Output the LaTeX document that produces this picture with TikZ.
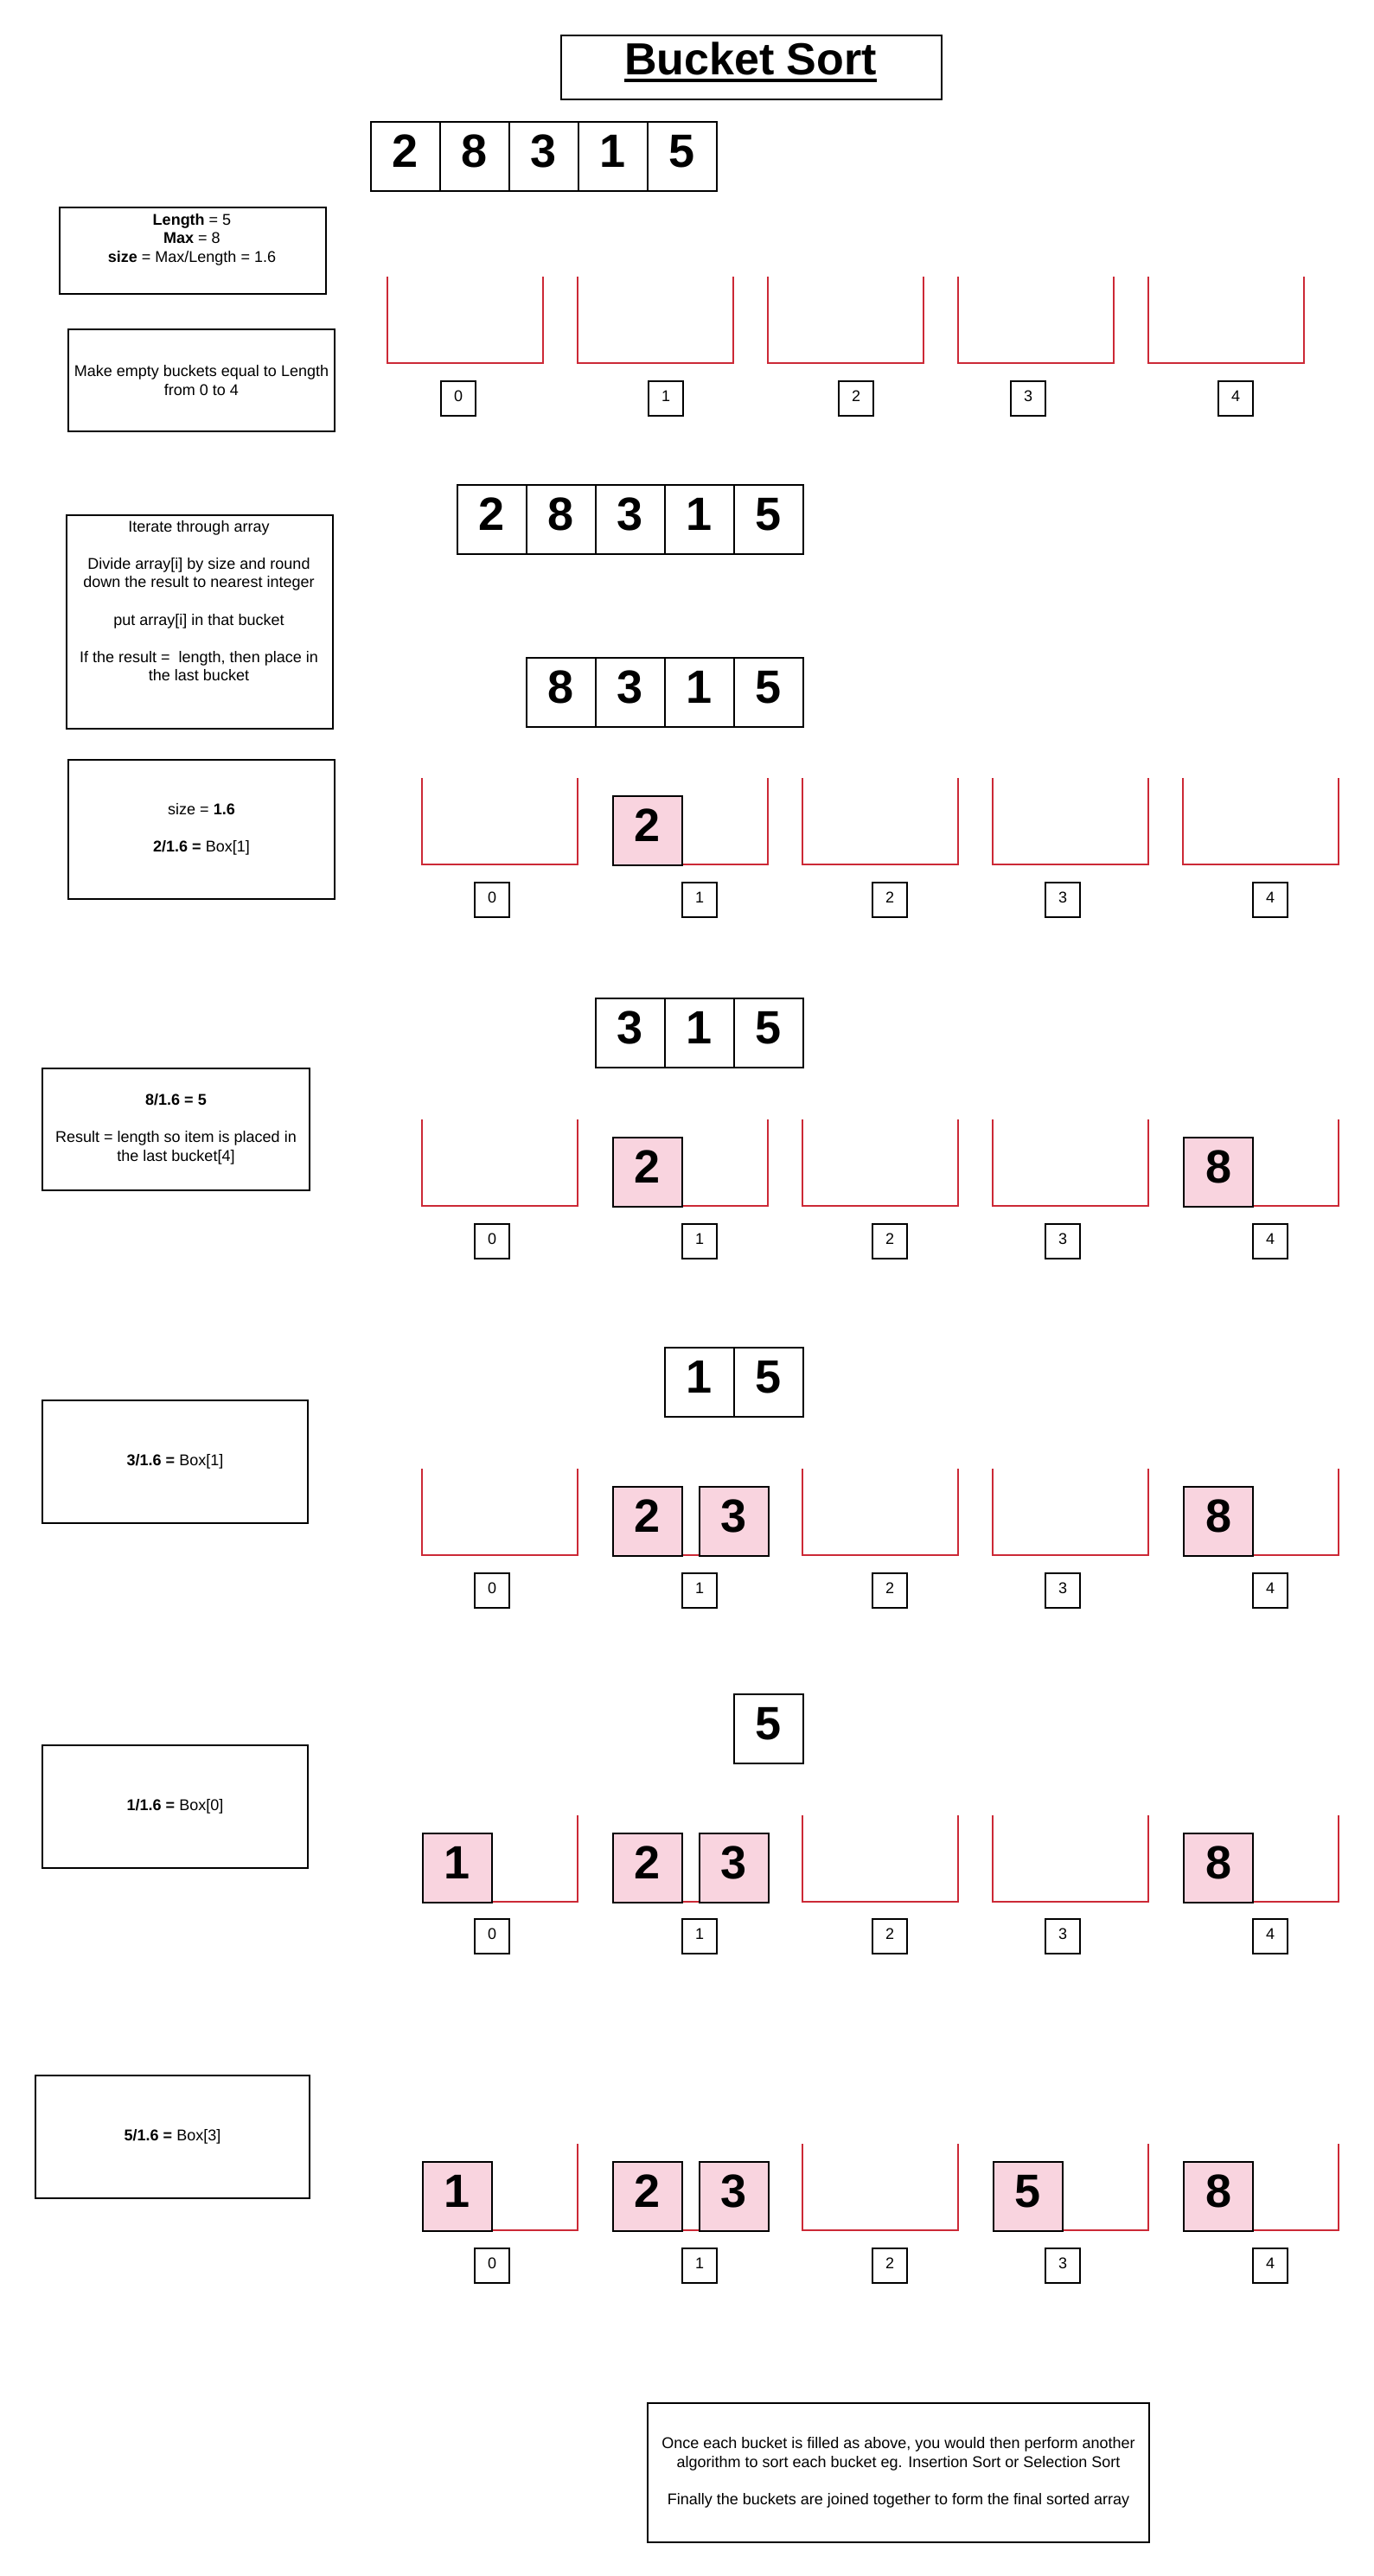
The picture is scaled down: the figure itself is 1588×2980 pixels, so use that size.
\documentclass[tikz,border=0pt]{standalone}
\usepackage{fontspec}
\setmainfont{Liberation Sans}
\definecolor{bred}{RGB}{204,41,54}
\definecolor{bpink}{RGB}{249,212,223}
\newcommand\fullbkt[2]{\draw[bkt] (#1,#2) -- (#1,#2+100) -- (#1+180,#2+100) -- (#1+180,#2);}
\newcommand\rightbkt[2]{\draw[bkt] (#1+40,#2+100) -- (#1+180,#2+100) -- (#1+180,#2);}
\newcommand\twobkt[2]{\draw[bkt] (#1+40,#2+100) -- (#1+140,#2+100);}
\newcommand\arow[4]{\foreach \v [count=\i from 0] in {#4} {\node[cell] (#1-\i) at (#2+80*\i,#3) {\v};}}
\newcommand\idxrow[3]{\foreach \xx [count=\i from 0] in {#3} {\node[idx] (#1-\i) at (\xx,#2) {\i};}}
\begin{document}
\begin{tikzpicture}[x=1pt,y=-1pt,
  cell/.style={draw, line width=2pt, minimum width=80pt, minimum height=80pt, inner sep=0pt,
    font=\fontsize{54}{60}\selectfont\bfseries, text height=40pt, text depth=15pt, anchor=north west},
  item/.style={cell, fill=bpink},
  idx/.style={draw, line width=2pt, minimum width=40pt, minimum height=40pt, inner sep=0pt,
    font=\fontsize{18}{21.6}\selectfont, text height=12pt, text depth=5pt, anchor=north west},
  box/.style={draw, line width=2pt, inner sep=0pt, font=\fontsize{18}{21.6}\selectfont,
    align=center, anchor=north west},
  txt/.style={inner sep=0pt, font=\fontsize{18}{21.6}\selectfont, align=center},
  bkt/.style={draw=bred, line width=2pt},
]
\fill[white] (0,0) rectangle (1588,2980);
\useasboundingbox (0,0) rectangle (1588,2980);

% title
\node[draw, line width=2pt, minimum width=440pt, minimum height=74pt, anchor=north west] (titlebox) at (648,40) {};
\node[font=\fontsize{52}{60}\selectfont\bfseries, inner sep=0pt, anchor=base] (title) at (868,86) {Bucket Sort};
\draw[line width=4pt] ([yshift=-7pt]title.base west) -- ([yshift=-7pt]title.base east);

% left notes
\node[box, minimum width=308pt, minimum height=100pt] (info) at (68,239) {};
\node[txt] (infotxt) at (222,277) {\textbf{Length} = 5\\\textbf{Max} = 8\\\textbf{size} = Max/Length = 1.6};
\node[box, minimum width=308pt, minimum height=118pt] (mk) at (78,380) {Make empty buckets equal to Length\\from 0 to 4};
\node[box, minimum width=308pt, minimum height=247pt] (iter) at (76,595) {};
\node[txt] (itertxt) at (230,695) {Iterate through array\\[21.6pt]Divide array[i] by size and round\\down the result to nearest integer\\[21.6pt]put array[i] in that bucket\\[21.6pt]If the result =~ length, then place in\\the last bucket};
\node[box, minimum width=308pt, minimum height=161pt] (sz) at (78,878) {size = \textbf{1.6}\\[21.6pt]\textbf{2/1.6 =} Box[1]};
\node[box, minimum width=309pt, minimum height=141pt] (eight) at (48,1235) {\textbf{8/1.6 = 5}\\[21.6pt]Result = length so item is placed in\\the last bucket[4]};
\node[box, minimum width=307pt, minimum height=142pt] (three) at (48,1619) {\textbf{3/1.6 =} Box[1]};
\node[box, minimum width=307pt, minimum height=142pt] (one) at (48,2018) {\textbf{1/1.6 =} Box[0]};
\node[box, minimum width=317pt, minimum height=142pt] (five) at (40,2400) {\textbf{5/1.6 =} Box[3]};
\node[box, minimum width=580pt, minimum height=161pt] (final) at (748,2779) {Once each bucket is filled as above, you would then perform another\\algorithm to sort each bucket eg. Insertion Sort or Selection Sort\\[21.6pt]Finally the buckets are joined together to form the final sorted array};

% arrays
\arow{a}{428}{140}{2,8,3,1,5}
\arow{b}{528}{560}{2,8,3,1,5}
\arow{c}{608}{760}{8,3,1,5}
\arow{d}{688}{1154}{3,1,5}
\arow{e}{768}{1558}{1,5}
\arow{f}{848}{1959}{5}

% row A: empty buckets
\fullbkt{448}{320}\fullbkt{668}{320}\fullbkt{888}{320}\fullbkt{1108}{320}\fullbkt{1328}{320}
\idxrow{iA}{440}{509,749,969,1168,1408}

% row B
\fullbkt{488}{900}\rightbkt{708}{900}\fullbkt{928}{900}\fullbkt{1148}{900}\fullbkt{1368}{900}
\node[item] (B2) at (708,920) {2};
\idxrow{iB}{1020}{548,788,1008,1208,1448}

% row C
\fullbkt{488}{1295}\rightbkt{708}{1295}\fullbkt{928}{1295}\fullbkt{1148}{1295}\rightbkt{1368}{1295}
\node[item] (C2) at (708,1315) {2};
\node[item] (C8) at (1368,1315) {8};
\idxrow{iC}{1415}{548,788,1008,1208,1448}

% row D
\fullbkt{488}{1699}\twobkt{708}{1699}\fullbkt{928}{1699}\fullbkt{1148}{1699}\rightbkt{1368}{1699}
\node[item] (D2) at (708,1719) {2};
\node[item] (D3) at (808,1719) {3};
\node[item] (D8) at (1368,1719) {8};
\idxrow{iD}{1819}{548,788,1008,1208,1448}

% row E
\rightbkt{488}{2100}\twobkt{708}{2100}\fullbkt{928}{2100}\fullbkt{1148}{2100}\rightbkt{1368}{2100}
\node[item] (E1) at (488,2120) {1};
\node[item] (E2) at (708,2120) {2};
\node[item] (E3) at (808,2120) {3};
\node[item] (E8) at (1368,2120) {8};
\idxrow{iE}{2219}{548,788,1008,1208,1448}

% row F
\rightbkt{488}{2480}\twobkt{708}{2480}\fullbkt{928}{2480}\rightbkt{1148}{2480}\rightbkt{1368}{2480}
\node[item] (F1) at (488,2500) {1};
\node[item] (F2) at (708,2500) {2};
\node[item] (F3) at (808,2500) {3};
\node[item] (F5) at (1148,2500) {5};
\node[item] (F8) at (1368,2500) {8};
\idxrow{iF}{2600}{548,788,1008,1208,1448}
\end{tikzpicture}
\end{document}
